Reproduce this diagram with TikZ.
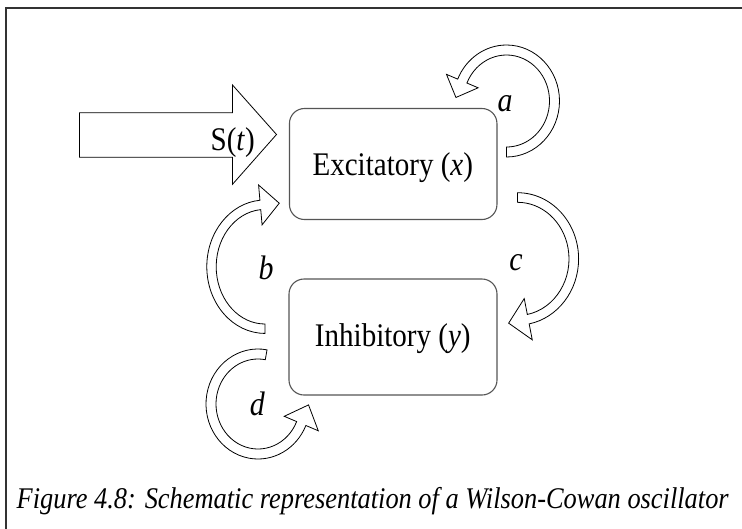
\documentclass[tikz,border=0pt]{standalone}
\usepackage{fontspec}
\setmainfont{Liberation Serif}[FakeStretch=0.88]
\usetikzlibrary{calc}
\definecolor{boxline}{HTML}{555555}
\definecolor{frameline}{HTML}{333333}
\tikzset{
  boxstyle/.style={draw=boxline, line width=1.1pt, rounded corners=15pt, fill=white},
  arcarrow/.style={draw=black, line width=0.8pt, fill=white, line join=miter},
  bigarrow/.style={draw=black, line width=0.8pt, fill=white},
  boxtext/.style={font=\fontsize{33}{38}\selectfont, inner sep=0pt},
  lbl/.style={font=\fontsize{34}{38}\selectfont\itshape, inner sep=0pt},
  captext/.style={font=\fontsize{30}{34}\selectfont\itshape, inner sep=0pt}
}
% #1 centre, #2 rx, #3 ry, #4 start angle, #5 end angle, #6 half band, #7 half head, #8 head length, #9 direction
\newcommand\blockarc[9]{%
  \path ($(#1)+(#5:#2 and #3)$) coordinate (#1-P)
        ($(#1)+({#5+(#9)}:#2 and #3)$) coordinate (#1-Q);
  \path ($(#1-P)!#8pt!(#1-Q)$) coordinate (#1-T);
  \draw[arcarrow] ($(#1)+(#4:{#2+#6} and {#3+#6})$)
    arc[start angle=#4, end angle=#5, x radius={#2+#6}, y radius={#3+#6}]
    -- ($(#1)+(#5:{#2+#7} and {#3+#7})$)
    -- (#1-T)
    -- ($(#1)+(#5:{#2-#7} and {#3-#7})$)
    -- ($(#1)+(#5:{#2-#6} and {#3-#6})$)
    arc[start angle=#5, end angle=#4, x radius={#2-#6}, y radius={#3-#6}]
    -- cycle;}
\begin{document}
\begin{tikzpicture}[x=1pt, y=-1pt]
\useasboundingbox (0,0) rectangle (742,528);
\clip (0,0) rectangle (742,528);
\fill[white] (0,0) rectangle (742,528);
% frame
\draw[frameline, line width=1.2pt] (6,8) rectangle (750,540);

% input arrow
\draw[bigarrow] (79.5,112.8) coordinate (sin) -- (232.5,112.8) -- (232.5,85)
  -- (276.5,134.5) coordinate (stip) -- (232.5,184.3) -- (232.5,157.2) -- (79.5,157.2) -- cycle;
\node[boxtext, anchor=base east] (slabel) at (255,150.7) {S(\textit{t})};

% boxes
\node[boxstyle, minimum width=207.5pt, minimum height=111pt] (exbox) at (393.2,164) {};
\node[boxstyle, minimum width=208pt, minimum height=116pt] (inbox) at (393,337) {};
\node[boxtext, anchor=base] (extext) at (392.8,175.6) {Excitatory (\textit{x})};
\node[boxtext, anchor=base] (intext) at (392.8,346.7) {Inhibitory (\textit{y})};

% curved block arrows
\coordinate (ca) at (506.5,101);
\coordinate (cb) at (265,266.7);
\coordinate (cc) at (517.5,258.9);
\coordinate (cd) at (258,404);
\blockarc{ca}{48}{51}{90}{-157}{5}{17.2}{17.6}{-1}
\blockarc{cb}{53.5}{62}{90}{265}{4.7}{20}{19}{1}
\blockarc{cc}{56.3}{61.4}{-90}{79}{4.8}{21}{20}{1}
\blockarc{cd}{47}{50}{-80}{-337}{5}{18.5}{20}{-1}

% labels
\node[lbl] (la) at (505,104) {a};
\node[lbl] (lb) at (266,268) {b};
\node[lbl] (lc) at (516,263) {c};
\node[lbl] (ld) at (257.3,404) {d};

% caption
\node[captext, anchor=base west] (cap) at (16.5,508) {Figure 4.8: Schematic representation of a Wilson-Cowan oscillator};
\end{tikzpicture}
\end{document}
